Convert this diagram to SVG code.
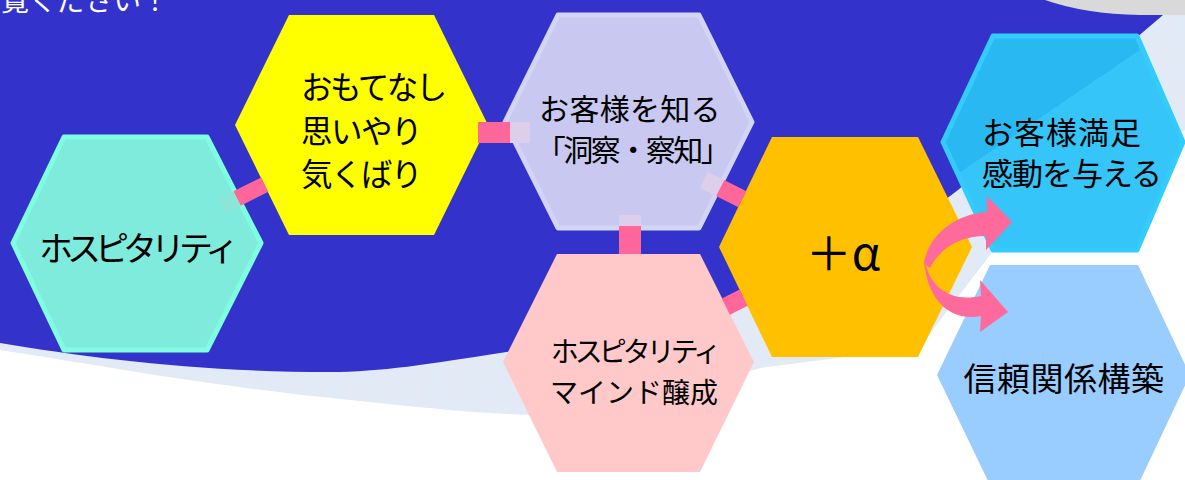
<svg xmlns="http://www.w3.org/2000/svg" width="1185" height="480" viewBox="0 0 1185 480">
<style>
text{font-family:"Noto Sans CJK JP","Noto Sans",sans-serif;fill:#000}
.bar{fill:#FF6699}
.ltl{fill:#DDCFEC}
.ltt{fill:#8CE6D6}
.arr{fill:#FF6A9C}
</style>
<defs>
<filter id="tex" x="0" y="0" width="100%" height="100%">
<feTurbulence type="fractalNoise" baseFrequency="0.07" numOctaves="3" seed="4"/>
<feColorMatrix values="0 0 0 0 0.74  0 0 0 0 0.82  0 0 0 0 0.94  2.2 0 0 0 -0.85"/>
</filter>
<clipPath id="texclip"><path d="M0,0 H1185 V130 C1100,180 1020,225 990,255 L925,340 C880,355 800,362 760,368 C680,390 620,415 550,415 C480,415 400,405 350,400 C200,385 100,365 0,350 Z"/></clipPath>
<linearGradient id="skyg" gradientUnits="userSpaceOnUse" x1="1039" y1="82" x2="1073" y2="132">
<stop offset="0.5" stop-color="#2AB8F2"/><stop offset="0.5" stop-color="#35C5F8"/>
</linearGradient>
</defs>
<g id="background">
<rect width="1185" height="480" fill="#FFFFFF"/>
<path d="M0,0 H1185 V130 C1100,180 1020,225 990,255 L925,340 C880,355 800,362 760,368 C680,390 620,415 550,415 C480,415 400,405 350,400 C200,385 100,365 0,350 Z" fill="#E3EAF5"/>
<rect width="1185" height="480" filter="url(#tex)" clip-path="url(#texclip)"/>
<path d="M0,0 H1175 L1163,15 L958,190 C880,252 720,320 500,353 C430,364 380,372 330,372 C200,372 90,358 0,343 Z" fill="#3333CC"/>
<path d="M1045,0 Q1085,14 1140,15 L1185,15 V0 Z" fill="#D9D9D9"/>
<text x="169" y="11" font-size="28" text-anchor="end" style="fill:#FFFFFF">ご覧ください！</text>
</g>
<g id="node-hospitality">
<polygon points="13,243 64,137 207,137 261,243 207,350 64,350" fill="#7FEBDC" stroke="#80FFE0" stroke-width="5" stroke-linejoin="round"/>
<text x="136" y="246" font-size="34" letter-spacing="-6" text-anchor="middle" dominant-baseline="central">ホスピタリティ</text>
</g>
<g id="node-omotenashi">
<polygon points="235,125 289,15 434,15 488,125 434,235 289,235" fill="#FFFF00"/>
<text x="301" y="85" font-size="31.5" letter-spacing="-2.5" dominant-baseline="central">おもてなし</text>
<text x="301" y="129" font-size="31.5" letter-spacing="-1.5" dominant-baseline="central">思いやり</text>
<text x="301" y="172" font-size="31.5" letter-spacing="-1.5" dominant-baseline="central">気くばり</text>
</g>
<g id="node-know">
<polygon points="505,122 558,15 699,15 752,122 699,228 558,228" fill="#C8C8F0" stroke="#D2D5F5" stroke-width="5" stroke-linejoin="round"/>
<text x="630" y="107" font-size="30" letter-spacing="0.3" text-anchor="middle" dominant-baseline="central">お客様を知る</text>
<text x="632" y="148" font-size="30" letter-spacing="-2.5" text-anchor="middle" dominant-baseline="central">「洞察・察知」</text>
</g>
<g id="node-mind">
<polygon points="503,362 557,254 700,254 754,362 700,472 557,472" fill="#FFC9C9"/>
<text x="634" y="350" font-size="28" letter-spacing="-4" text-anchor="middle" dominant-baseline="central">ホスピタリティ</text>
<text x="634" y="391" font-size="28" letter-spacing="0" text-anchor="middle" dominant-baseline="central">マインド醸成</text>
</g>
<g id="node-alpha">
<polygon points="719,247 772,137 918,137 972,247 918,357 772,357" fill="#FFC000"/>
<text x="843" y="250" font-size="46" text-anchor="middle" dominant-baseline="central">＋α</text>
</g>
<g id="node-satisfaction">
<polygon points="943,142 993,36 1137,36 1183,142 1137,250 993,250" fill="url(#skyg)" stroke="#33CCFF" stroke-width="5" stroke-linejoin="round"/>
<text x="982" y="130" font-size="31" letter-spacing="1" dominant-baseline="central">お客様満足</text>
<text x="982" y="171" font-size="31" letter-spacing="-1" dominant-baseline="central">感動を与える</text>
</g>
<g id="node-trust">
<polygon points="937,375 990,265 1138,265 1190,375 1138,485 990,485" fill="#99CCFF"/>
<text x="1064" y="377" font-size="33" letter-spacing="0.5" text-anchor="middle" dominant-baseline="central">信頼関係構築</text>
</g>
<g id="connectors">
<g transform="translate(246,194) rotate(-26.57)">
<rect class="bar" x="-10" y="-8" width="31" height="16"/>
<rect class="ltt" x="-26" y="-8" width="16" height="16"/>
</g>
<rect class="bar" x="478" y="122" width="32" height="21"/>
<rect class="ltl" x="510" y="122" width="20" height="21"/>
<g transform="translate(712,184) rotate(26.57)">
<rect class="bar" x="9" y="-9" width="25" height="18"/>
<rect class="ltl" x="-9" y="-9" width="18" height="18"/>
</g>
<rect class="ltl" x="619" y="215" width="22" height="11"/>
<rect class="bar" x="619" y="226" width="22" height="28"/>
<g transform="translate(733,303) rotate(-26.57)">
<rect class="bar" x="-8" y="-9" width="20" height="18"/>
</g>
<path class="arr" d="M924,264 C928,235 955,214 987,212 L987,196 L1012,222 L986,250 L986,236 C960,236 940,248 930,268 Z"/>
<path class="arr" d="M924,258 C930,290 952,302 981,296 L980,280 L1008,312 L980,332 L981,316 C950,322 926,300 924,258 Z"/>
</g>
</svg>
